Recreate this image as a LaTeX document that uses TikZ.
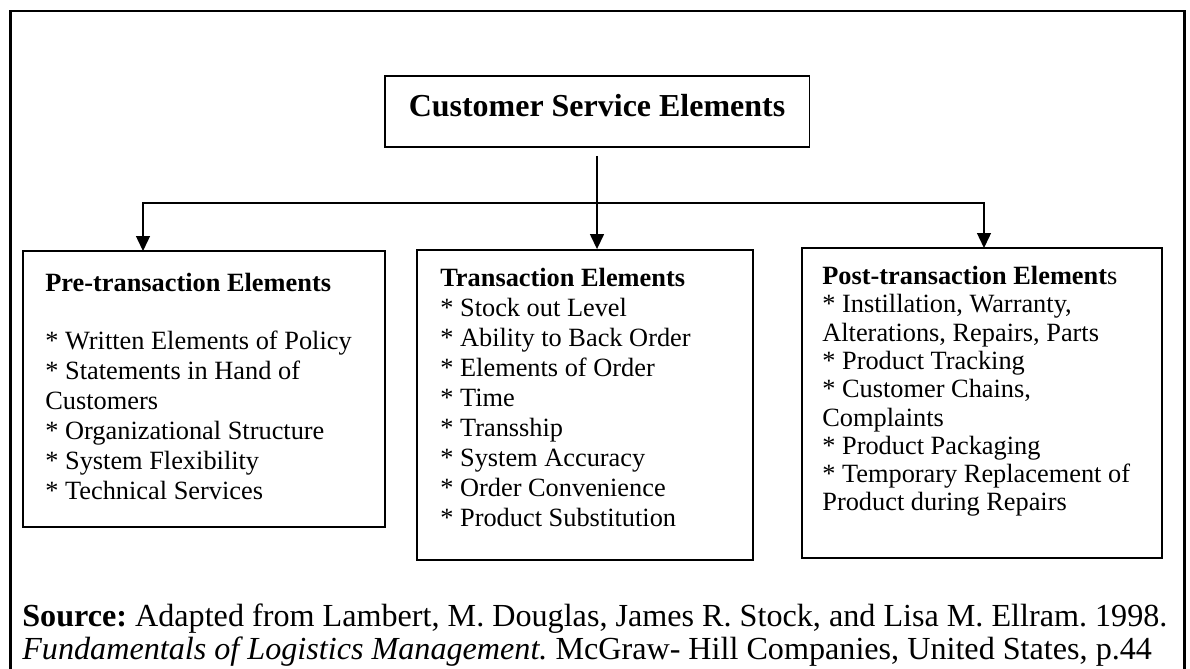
\documentclass[tikz,border=0pt]{standalone}
\usepackage{fontspec}
\setmainfont{Liberation Serif}
\usetikzlibrary{arrows.meta}
\frenchspacing

\begin{document}
\begin{tikzpicture}
[x=0.02cm,y=-0.02cm,
 box/.style={rectangle,draw=black,line width=1.1pt,fill=white,inner sep=0pt},
 txt/.style={anchor=north west,align=left,inner sep=0pt,font=\fontsize{15}{17.07}\selectfont},
 src/.style={anchor=base west,inner sep=0pt,font=\fontsize{18.3}{21}\selectfont},
 link/.style={line width=0.8pt},
 >={Triangle[width=0.28cm,length=0.3cm]}]
\useasboundingbox (0,0) rectangle (1190,669);
% outer frame, open at the bottom
\draw[line width=1.7pt] (10.5,700) |- (1184.5,11) -- (1184.5,700);

\node[box,minimum width=8.5cm,minimum height=1.42cm,text depth=0.26cm,font=\fontsize{18.2}{21}\selectfont\bfseries] at (597,111.5) (cse) {Customer Service Elements};
\node[box,minimum width=7.24cm,minimum height=5.52cm] at (204,389) (pre) {};
\node[box,minimum width=6.72cm,minimum height=6.2cm] at (585,405) (trans) {};
\node[box,minimum width=7.2cm,minimum height=6.2cm] at (982,403) (post) {};

\node[txt] at (45,273) (preTxt) {\textbf{Pre-transaction Elements}\\[16pt]
* Written Elements of Policy\\
* Statements in Hand of\\
Customers\\
* Organizational Structure\\
* System Flexibility\\
* Technical Services};
\node[txt] at (440,268) (transTxt) {\textbf{Transaction Elements}\\
* Stock out Level\\
* Ability to Back Order\\
* Elements of Order\\
* Time\\
* Transship\\
* System Accuracy\\
* Order Convenience\\
* Product Substitution};
\node[txt,font=\fontsize{15}{16.1}\selectfont] at (822,266) (postTxt) {\textbf{Post-transaction Element}s\\
* Instillation, Warranty,\\
Alterations, Repairs, Parts\\
* Product Tracking\\
* Customer Chains,\\
Complaints\\
* Product Packaging\\
* Temporary Replacement of\\
Product during Repairs};

% arrows from the top box
\coordinate (fork) at (597,203);
\coordinate (preIn) at (143,251);
\coordinate (postIn) at (984,248);
\draw[link,->] ([yshift=-0.16cm]cse.south) -- (cse.south |- trans.north);
\draw[link,->] (fork) -| (preIn);
\draw[link,->] (fork) -| (postIn);

\node[src] at (22,626) (source) {\textbf{Source:} Adapted from Lambert, M. Douglas, James R. Stock, and Lisa M. Ellram. 1998.};
\node[src] at (22,659) (book) {\textit{Fundamentals of Logistics Management.} McGraw- Hill Companies, United States, p.44};
\end{tikzpicture}
\end{document}
